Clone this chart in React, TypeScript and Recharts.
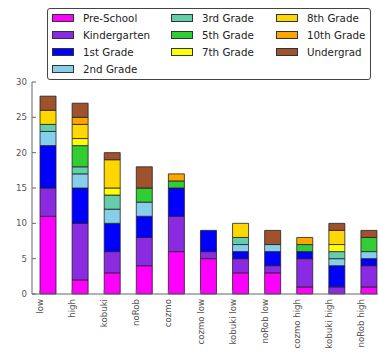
import React from 'react';
import { BarChart, Bar, XAxis, YAxis } from 'recharts';

// Count of participants per education level, for each condition
const categories = [
  'low', 'high', 'kobuki', 'noRob', 'cozmo', 'cozmo low',
  'kobuki low', 'noRob low', 'cozmo high', 'kobuki high', 'noRob high',
];

const preSchool = [11, 2, 3, 4, 6, 5, 3, 3, 1, 0, 1];
const kindergarten = [4, 8, 3, 4, 5, 1, 2, 1, 4, 1, 3];
const grade1 = [6, 5, 4, 3, 4, 3, 1, 2, 1, 3, 1];
const grade2 = [2, 2, 2, 2, 0, 0, 1, 1, 0, 1, 1];
const grade3 = [1, 1, 2, 0, 0, 0, 1, 0, 0, 1, 0];
const grade5 = [0, 3, 0, 2, 1, 0, 0, 0, 1, 0, 2];
const grade7 = [0, 1, 1, 0, 0, 0, 0, 0, 0, 1, 0];
const grade8 = [2, 2, 4, 0, 0, 0, 2, 0, 0, 2, 0];
const grade10 = [0, 1, 0, 0, 1, 0, 0, 0, 1, 0, 0];
const undergrad = [2, 2, 1, 3, 0, 0, 0, 2, 0, 1, 1];

const yTicks = [0, 5, 10, 15, 20, 25, 30];

const series = [
  { key: 'Pre-School', values: preSchool, color: '#ff00ff' },
  { key: 'Kindergarten', values: kindergarten, color: '#8a2be2' },
  { key: '1st Grade', values: grade1, color: '#0000ff' },
  { key: '2nd Grade', values: grade2, color: '#87ceeb' },
  { key: '3rd Grade', values: grade3, color: '#66cdaa' },
  { key: '5th Grade', values: grade5, color: '#32cd32' },
  { key: '7th Grade', values: grade7, color: '#ffff00' },
  { key: '8th Grade', values: grade8, color: '#ffd700' },
  { key: '10th Grade', values: grade10, color: '#ffa500' },
  { key: 'Undergrad', values: undergrad, color: '#a0522d' },
];

const data = categories.map((name, i) => {
  const row: Record<string, string | number> = { name };
  series.forEach(s => { row[s.key] = s.values[i]; });
  return row;
});

const FONT = '"DejaVu Sans", sans-serif';
const AXIS = '#666';
const TICK_FONT = 8.6;
// ticks sit on the left edge of each bar (bar width is 16px)
const EDGE = 8;

const BottomTick = (props: any) => {
  const { x, y, payload } = props;
  const tx = x - EDGE;
  return (
    <g>
      <line x1={tx} x2={tx} y1={y} y2={y - 4} stroke={AXIS} />
      <text
        transform={`translate(${tx},${y + 5}) rotate(-90)`}
        textAnchor="end"
        dy="0.35em"
        fontSize={TICK_FONT}
        fontFamily={FONT}
        fill="#555"
      >
        {payload.value}
      </text>
    </g>
  );
};

const TopTick = (props: any) => {
  const { x, y } = props;
  const tx = x - EDGE;
  return <line x1={tx} x2={tx} y1={y} y2={y + 4} stroke={AXIS} />;
};

const LeftTick = (props: any) => {
  const { x, y, payload } = props;
  return (
    <g>
      <line x1={x} x2={x + 4} y1={y} y2={y} stroke={AXIS} />
      <text
        x={x - 5}
        y={y}
        dy="0.35em"
        textAnchor="end"
        fontSize={TICK_FONT}
        fontFamily={FONT}
        fill="#555"
      >
        {payload.value}
      </text>
    </g>
  );
};

// legend laid out column-wise, three columns
const legendCols = [[0, 1, 2, 3], [4, 5, 6], [7, 8, 9]];
const colX = [4, 123, 228];

function ChartLegend() {
  return (
    <div
      style={{
        position: 'absolute',
        left: 47,
        top: 8,
        width: 322,
        height: 70,
        border: '1px solid #444',
        borderRadius: 3,
        background: '#fff',
        fontFamily: FONT,
        fontSize: 10.3,
        color: '#222',
      }}
    >
      {legendCols.map((col, ci) =>
        col.map((si, ri) => (
          <div
            key={series[si].key}
            style={{
              position: 'absolute',
              left: colX[ci],
              top: 0 + ri * 17,
              height: 17,
              display: 'flex',
              alignItems: 'center',
              whiteSpace: 'nowrap',
            }}
          >
            <span
              style={{
                display: 'inline-block',
                width: 20,
                height: 6,
                background: series[si].color,
                border: '1px solid #333',
                marginRight: 9,
              }}
            />
            <span>{series[si].key}</span>
          </div>
        ))
      )}
    </div>
  );
}

export default function App() {
  return (
    <div
      style={{
        position: 'absolute',
        left: 0,
        top: 0,
        width: 378,
        height: 355,
        overflow: 'hidden',
        background: '#fff',
      }}
    >
      <BarChart
        width={400}
        height={355}
        data={data}
        margin={{ top: 82, right: 15, bottom: 0, left: 0 }}
        barCategoryGap="25%"
      >
        <XAxis
          dataKey="name"
          height={61}
          interval={0}
          tickSize={0}
          tickMargin={0}
          tickLine={false}
          axisLine={{ stroke: AXIS }}
          tick={<BottomTick />}
        />
        <XAxis
          xAxisId="top"
          dataKey="name"
          orientation="top"
          height={0}
          interval={0}
          tickSize={0}
          tickMargin={0}
          tickLine={false}
          axisLine={{ stroke: AXIS }}
          tick={<TopTick />}
        />
        <YAxis
          width={32}
          domain={[0, 30]}
          ticks={yTicks}
          interval={0}
          tickSize={0}
          tickMargin={0}
          tickLine={false}
          axisLine={{ stroke: AXIS }}
          tick={<LeftTick />}
        />
        {series.map(s => (
          <Bar
            key={s.key}
            dataKey={s.key}
            stackId="a"
            fill={s.color}
            stroke="#222"
            strokeWidth={0.8}
            isAnimationActive={false}
          />
        ))}
      </BarChart>
      <ChartLegend />
    </div>
  );
}
